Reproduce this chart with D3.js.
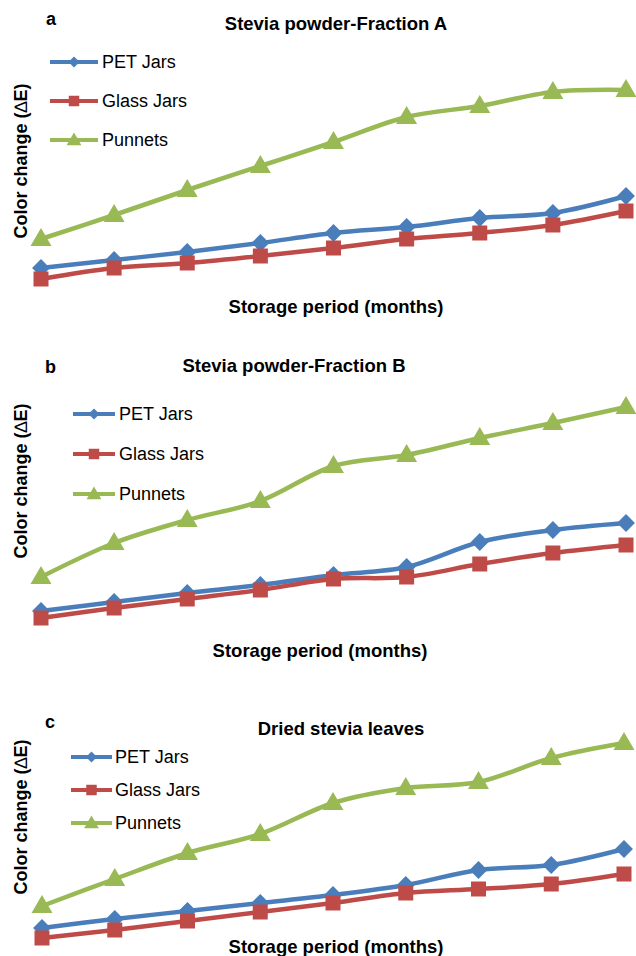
<!DOCTYPE html>
<html>
<head>
<meta charset="utf-8">
<script src="https://cdn.jsdelivr.net/npm/d3@7"></script>
<style>
  html, body { margin: 0; padding: 0; background: #fff; }
  svg { display: block; font-family: "Liberation Sans", Arial, sans-serif; }
</style>
</head>
<body>
<svg id="chart" width="636" height="956"></svg>
<script>
// ---- data (ΔE, arbitrary units) ----
const months = [0, 1, 2, 3, 4, 5, 6, 7, 8];
const seriesNames = ["PET Jars", "Glass Jars", "Punnets"];
const panelLabels = ["a", "b", "c"];
const panelTitles = ["Stevia powder-Fraction A", "Stevia powder-Fraction B", "Dried stevia leaves"];
const xTitle = "Storage period (months)";

const petA   = [1.1, 1.5, 1.9, 2.35, 2.85, 3.15, 3.6, 3.85, 4.7];
const glassA = [0.55, 1.1, 1.35, 1.7, 2.1, 2.55, 2.85, 3.25, 3.95];
const punA   = [2.55, 3.75, 5.0, 6.2, 7.4, 8.65, 9.2, 9.9, 10.0];

const petB   = [0.95, 1.4, 1.85, 2.25, 2.75, 3.15, 4.4, 5.0, 5.35];
const glassB = [0.6, 1.1, 1.55, 2.0, 2.55, 2.65, 3.3, 3.85, 4.25];
const punB   = [2.65, 4.35, 5.5, 6.45, 8.2, 8.75, 9.6, 10.35, 11.15];

const petC   = [1.1, 1.55, 1.95, 2.35, 2.75, 3.25, 4.0, 4.25, 5.05];
const glassC = [0.6, 1.0, 1.45, 1.9, 2.35, 2.85, 3.05, 3.3, 3.8];
const punC   = [2.2, 3.55, 4.85, 5.8, 7.35, 8.1, 8.4, 9.6, 10.35];

const colors = ["#4A7EBB", "#BE4B48", "#98B954"];

// Excel-like square diamond (equal width and height)
const symbolDiamondSq = {
  draw(ctx, size) {
    const h = Math.sqrt(size / 2);
    ctx.moveTo(0, -h); ctx.lineTo(h, 0); ctx.lineTo(0, h); ctx.lineTo(-h, 0); ctx.closePath();
  }
};
const markerTypes = [symbolDiamondSq, d3.symbolSquare, d3.symbolTriangle];

// ---- layout for each panel ----
const panels = [
  { data: [petA, glassA, punA], x0: 41, x1: 626, y0: 290,
    label: [46, 25], title: [336, 30], xt: [336, 313], yt: [27, 161],
    leg: { x0: 50, x1: 98, tx: 102, ys: [62, 101, 140] } },
  { data: [petB, glassB, punB], x0: 41, x1: 626, y0: 630,
    label: [45, 373], title: [294, 372], xt: [320, 657], yt: [27, 481],
    leg: { x0: 73, x1: 115, tx: 119, ys: [414, 454, 494] } },
  { data: [petC, glassC, punC], x0: 42, x1: 624, y0: 950,
    label: [45, 728], title: [341, 735], xt: [336, 953], yt: [27, 817],
    leg: { x0: 71, x1: 112, tx: 115, ys: [757, 790, 823] } }
];

const svg = d3.select("#chart");

panels.forEach((p, pi) => {
  const g = svg.append("g");
  const x = d3.scaleLinear().domain([0, 8]).range([p.x0, p.x1]);
  const y = d3.scaleLinear().domain([0, 10]).range([p.y0, p.y0 - 200]);

  const line = d3.line()
    .x((d, i) => x(months[i]))
    .y(d => y(d))
    .curve(d3.curveCatmullRom.alpha(0));

  p.data.forEach((vals, si) => {
    g.append("path")
      .attr("d", line(vals))
      .attr("fill", "none")
      .attr("stroke", colors[si])
      .attr("stroke-width", 4.5)
      .attr("stroke-linejoin", "round");
  });

  const sizes = [160, 225, 190];
  p.data.forEach((vals, si) => {
    g.selectAll(null).data(vals).enter().append("path")
      .attr("d", d3.symbol().type(markerTypes[si]).size(sizes[si]))
      .attr("transform", (d, i) => `translate(${x(months[i])},${y(d) + (si === 2 ? 1 : 0)})`)
      .attr("fill", colors[si]);
  });

  // legend
  seriesNames.forEach((name, si) => {
    const ly = p.leg.ys[si];
    g.append("line")
      .attr("x1", p.leg.x0).attr("x2", p.leg.x1)
      .attr("y1", ly).attr("y2", ly)
      .attr("stroke", colors[si]).attr("stroke-width", 4);
    g.append("path")
      .attr("d", d3.symbol().type(markerTypes[si]).size([60, 110, 95][si]))
      .attr("transform", `translate(${(p.leg.x0 + p.leg.x1) / 2},${ly + (si === 2 ? 1 : 0)})`)
      .attr("fill", colors[si]);
    g.append("text")
      .attr("x", p.leg.tx).attr("y", ly)
      .attr("dy", "0.35em")
      .attr("font-size", 18)
      .attr("fill", "#000")
      .text(name);
  });

  // panel label
  g.append("text")
    .attr("x", p.label[0]).attr("y", p.label[1])
    .attr("font-size", 18).attr("font-weight", "bold")
    .text(panelLabels[pi]);

  // title
  g.append("text")
    .attr("x", p.title[0]).attr("y", p.title[1])
    .attr("text-anchor", "middle")
    .attr("font-size", 18.5).attr("font-weight", "bold")
    .text(panelTitles[pi]);

  // x title
  g.append("text")
    .attr("x", p.xt[0]).attr("y", p.xt[1])
    .attr("text-anchor", "middle")
    .attr("font-size", 18.5).attr("font-weight", "bold")
    .text(xTitle);

  // y title
  const yt = g.append("text")
    .attr("transform", `translate(${p.yt[0]},${p.yt[1]}) rotate(-90)`)
    .attr("text-anchor", "middle")
    .attr("font-size", 18).attr("font-weight", "bold");
  yt.append("tspan").text("Color change (");
  yt.append("tspan").attr("font-weight", "normal").text("\u2206");
  yt.append("tspan").text("E)");
});
</script>
</body>
</html>
